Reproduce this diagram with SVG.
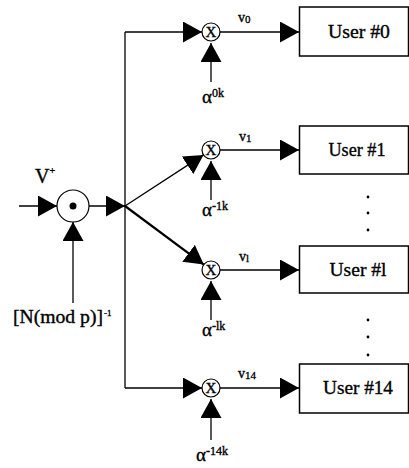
<svg xmlns="http://www.w3.org/2000/svg" width="409" height="468" viewBox="0 0 409 468">
<defs>
<marker id="ah" markerUnits="userSpaceOnUse" markerWidth="20" markerHeight="22" refX="19" refY="10.5" orient="auto" viewBox="0 0 20 22">
<path d="M0,0 L19,10.5 L0,21 z" fill="#000"/>
</marker>
<style>
.ln{stroke:#000;stroke-width:1.3;fill:none}
.thick{stroke:#000;stroke-width:2.2;fill:none}
.arr{marker-end:url(#ah)}
.box{fill:#fff;stroke:#000;stroke-width:1.5}
.mul{fill:#fff;stroke:#000;stroke-width:1.2}
.t{font-family:"Liberation Serif","Times New Roman",serif;fill:#000;stroke:#000;stroke-width:0.35}
.user{font-size:19px;text-anchor:middle}
.lab{font-size:14px}
.alpha{font-size:19px}
.sup{font-size:12px}
.x{font-size:15px;text-anchor:middle}
</style>
</defs>
<rect width="409" height="468" fill="#fff"/>
<g id="connectors">
<line class="ln arr" x1="19" y1="206" x2="57" y2="206"/>
<line class="ln arr" x1="73" y1="303" x2="73" y2="222"/>
<line class="ln arr" x1="89" y1="206" x2="125" y2="206"/>
<line class="ln" x1="125" y1="32" x2="125" y2="388"/>
<line class="ln arr" x1="125" y1="32" x2="202" y2="32"/>
<line class="ln arr" x1="125" y1="206" x2="203.5" y2="154.9"/>
<line class="thick arr" x1="125" y1="206" x2="203.8" y2="264.6"/>
<line class="ln arr" x1="125" y1="388" x2="202" y2="388"/>
<line class="ln arr" x1="220" y1="32" x2="299" y2="32"/>
<line class="ln arr" x1="220" y1="150" x2="299" y2="150"/>
<line class="ln arr" x1="220" y1="270" x2="299" y2="270"/>
<line class="ln arr" x1="220" y1="388" x2="299" y2="388"/>
<line class="ln arr" x1="211" y1="82" x2="211" y2="43"/>
<line class="ln arr" x1="211" y1="200" x2="211" y2="161"/>
<line class="ln arr" x1="211" y1="320" x2="211" y2="281"/>
<line class="ln arr" x1="211" y1="440" x2="211" y2="399"/>
</g>
<g id="combiner">
<circle cx="73" cy="206" r="16" class="mul"/>
<circle cx="73" cy="206" r="3.5" fill="#000"/>
<text class="t" x="35" y="183" font-size="20">V<tspan font-size="10" dy="-9">+</tspan></text>
<text class="t" x="13" y="323" font-size="18" textLength="90" lengthAdjust="spacingAndGlyphs">[N(mod p)]</text>
<text class="t" x="104" y="316" font-size="9">-1</text>
</g>
<g id="mult0">
<circle cx="211" cy="32" r="9" class="mul"/>
<text class="t x" x="211" y="37">X</text>
<text class="t lab" x="238" y="22">v<tspan font-size="11" dy="1">0</tspan></text>
<text class="t alpha" x="202" y="103">α<tspan class="sup" dy="-6">0k</tspan></text>
</g>
<g id="mult1">
<circle cx="211" cy="150" r="9" class="mul"/>
<text class="t x" x="211" y="155">X</text>
<text class="t lab" x="239" y="141">v<tspan font-size="11" dy="1">1</tspan></text>
<text class="t alpha" x="202" y="216">α<tspan class="sup" dy="-6">-1k</tspan></text>
</g>
<g id="multl">
<circle cx="211" cy="270" r="9" class="mul"/>
<text class="t x" x="211" y="275">X</text>
<text class="t lab" x="239" y="261">v<tspan font-size="11" dy="1">l</tspan></text>
<text class="t alpha" x="202" y="336">α<tspan class="sup" dy="-6">-lk</tspan></text>
</g>
<g id="mult14">
<circle cx="211" cy="388" r="9" class="mul"/>
<text class="t x" x="211" y="393">X</text>
<text class="t lab" x="238" y="378">v<tspan font-size="11" dy="1">14</tspan></text>
<text class="t alpha" x="196" y="461">α<tspan class="sup" dy="-6">-14k</tspan></text>
</g>
<g id="user0">
<rect class="box" x="299.5" y="7" width="109" height="49"/>
<text class="t user" x="359" y="38" textLength="62" lengthAdjust="spacingAndGlyphs">User #0</text>
</g>
<g id="user1">
<rect class="box" x="299.5" y="126" width="109" height="48"/>
<text class="t user" x="357" y="156" textLength="57" lengthAdjust="spacingAndGlyphs">User #1</text>
</g>
<g id="userl">
<rect class="box" x="299.5" y="246" width="109" height="47"/>
<text class="t user" x="358" y="276" textLength="57" lengthAdjust="spacingAndGlyphs">User #l</text>
</g>
<g id="user14">
<rect class="box" x="299.5" y="364" width="109" height="49"/>
<text class="t user" x="358" y="394" textLength="70" lengthAdjust="spacingAndGlyphs">User #14</text>
</g>
<g id="ellipses">
<circle cx="368" cy="197" r="1.4" fill="#000"/>
<circle cx="368" cy="213" r="1.4" fill="#000"/>
<circle cx="368" cy="230" r="1.4" fill="#000"/>
<circle cx="368" cy="320" r="1.4" fill="#000"/>
<circle cx="368" cy="337" r="1.4" fill="#000"/>
<circle cx="368" cy="355" r="1.4" fill="#000"/>
</g>
</svg>
